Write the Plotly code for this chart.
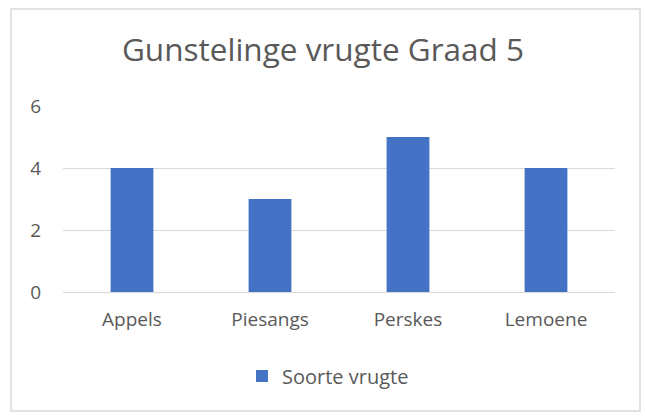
import plotly.graph_objects as go

categories = ["Appels", "Piesangs", "Perskes", "Lemoene"]
values = [4, 3, 5, 4]
series_name = "Soorte vrugte"
y_ticks = [0, 2, 4, 6]

W, H = 646, 416
L, R, T, B = 63, 31, 106, 124
pw, ph = W - L - R, H - T - B

def px2x(x):
    return (x - L) / pw

def py2y(y):
    return (H - B - y) / ph

fig = go.Figure()
fig.add_trace(go.Bar(x=categories, y=values, name=series_name,
                     marker=dict(color="#4472C4", line=dict(width=0)),
                     showlegend=True))

font_fam = "Open Sans, Liberation Sans, sans-serif"
fig.update_layout(
    width=W, height=H,
    margin=dict(l=L, r=R, t=T, b=B),
    paper_bgcolor="white", plot_bgcolor="white",
    bargap=0.69,
    title=dict(text="Gunstelinge vrugte Graad 5", x=0.5, xanchor="center",
               y=1 - 50 / H, yanchor="middle",
               font=dict(family=font_fam, size=31.5, color="#595959")),
    xaxis=dict(showgrid=False, showline=False, ticks="", ticklabelstandoff=14,
               tickfont=dict(family=font_fam, size=19, color="#595959")),
    yaxis=dict(range=[0, 6], tickvals=y_ticks, showgrid=True, gridcolor="#D9D9D9",
               gridwidth=1, zeroline=True, zerolinecolor="#D9D9D9", zerolinewidth=1,
               showline=False, ticks="", ticklabelstandoff=21,
               tickfont=dict(family=font_fam, size=19, color="#595959")),
    legend=dict(orientation="h", x=px2x(328), xanchor="center", y=py2y(376), yanchor="middle",
                font=dict(family=font_fam, size=20, color="#595959"),
                itemwidth=30),
    shapes=[dict(type="rect", xref="paper", yref="paper",
                 x0=px2x(11), x1=px2x(640), y0=py2y(411), y1=py2y(9),
                 line=dict(color="#D9D9D9", width=1.5), fillcolor="rgba(0,0,0,0)",
                 layer="below")],
)
fig.write_html("out.html", config={"displayModeBar": False},
               post_script="document.body.style.margin='0';document.body.style.overflow='hidden';")
